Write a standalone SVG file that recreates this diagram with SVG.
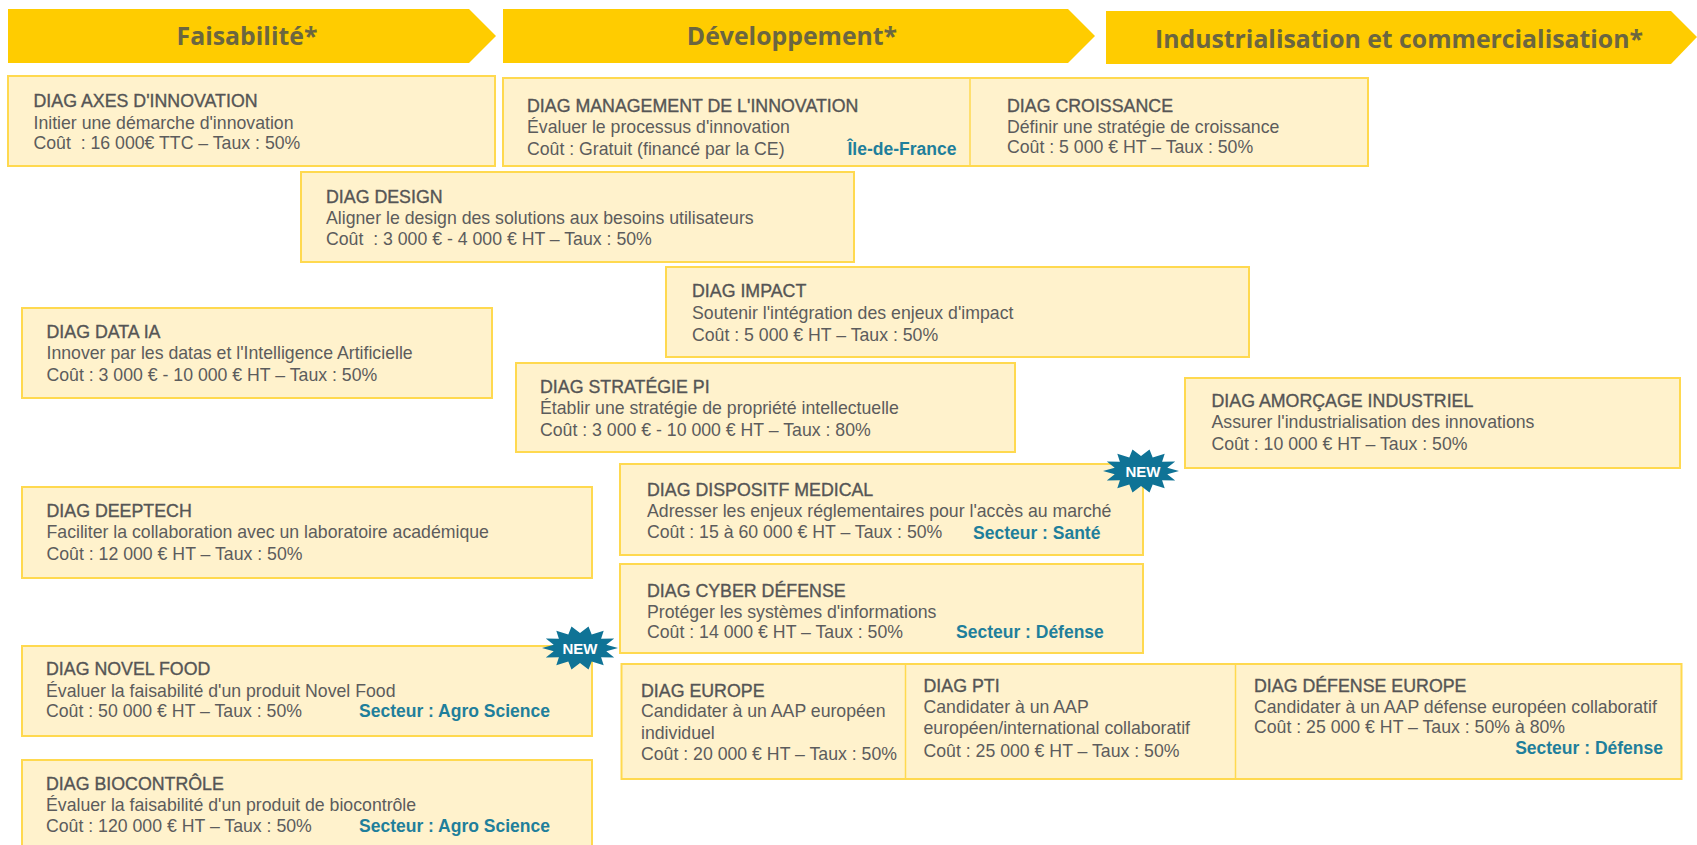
<svg xmlns="http://www.w3.org/2000/svg" width="1697" height="845" viewBox="0 0 1697 845">
<style>
text{font-family:"Liberation Sans",Arial,sans-serif;font-size:17.700px;fill:#5c5c5c}
.box{fill:#fff2cc;stroke:#ffd94f;stroke-width:2}
.div{stroke:#ffd94f;stroke-width:1.5;fill:none}
.chev{fill:#ffcc00}
.hd{font-family:"Open Sans",sans-serif;font-size:24.800px;font-weight:700;fill:#6b6640;text-anchor:middle}
.t{font-size:17.800px;fill:#555;stroke:#555;stroke-width:.35}
.s{fill:#1f7f9b;font-weight:700;font-size:17.500px}
.new{fill:#fff;font-weight:700;font-size:15px;text-anchor:middle}
.star{fill:#0f7396}
</style>
<defs>
<polygon id="burst" points="38,0 26.3,3.3 34.2,9.5 21.1,9.3 23.7,17.2 11.7,13.5 8.5,21.4 0,15 -8.5,21.4 -11.7,13.5 -23.7,17.2 -21.1,9.3 -34.2,9.5 -26.3,3.3 -38,0 -26.3,-3.3 -34.2,-9.5 -21.1,-9.3 -23.7,-17.2 -11.7,-13.5 -8.5,-21.4 0,-15 8.5,-21.4 11.7,-13.5 23.7,-17.2 21.1,-9.3 34.2,-9.5 26.3,-3.3"/>
</defs>
<rect width="1697" height="845" fill="#fff"/>
<g id="connectors"/>
<g id="phase-faisabilite"><polygon class="chev" points="8,9 469,9 496,36 469,63 8,63"/><text class="hd" x="247" y="45">Faisabilité*</text></g>
<g id="phase-developpement"><polygon class="chev" points="503,9 1068,9 1095,36 1068,63 503,63"/><text class="hd" x="792" y="45">Développement*</text></g>
<g id="phase-industrialisation"><polygon class="chev" points="1106,11 1671,11 1697,37 1671,64 1106,64"/><text class="hd" x="1399" y="48">Industrialisation et commercialisation*</text></g>

<g id="diag-axes"><rect class="box" x="8" y="76" width="487" height="90"/>
<text class="t" x="33.500" y="107">DIAG AXES D'INNOVATION</text><text x="33.500" y="128.500">Initier une démarche d'innovation</text><text x="33.500" y="148.500">Coût&#160; : 16 000€ TTC – Taux : 50%</text></g>

<g id="diag-management"><rect class="box" x="503" y="78" width="865" height="88"/><line class="div" x1="970" y1="78" x2="970" y2="166"/>
<text class="t" x="527" y="112">DIAG MANAGEMENT DE L'INNOVATION</text><text x="527" y="133">Évaluer le processus d'innovation</text><text x="527" y="155">Coût : Gratuit (financé par la CE)</text><text class="s" x="847.500" y="155">Île-de-France</text></g>

<g id="diag-croissance"><text class="t" x="1007" y="112">DIAG CROISSANCE</text><text x="1007" y="133">Définir une stratégie de croissance</text><text x="1007" y="153">Coût : 5 000 € HT – Taux : 50%</text></g>

<g id="diag-design"><rect class="box" x="301" y="172" width="553" height="90"/>
<text class="t" x="326" y="203">DIAG DESIGN</text><text x="326" y="224">Aligner le design des solutions aux besoins utilisateurs</text><text x="326" y="245">Coût&#160; : 3 000 € - 4 000 € HT – Taux : 50%</text></g>

<g id="diag-impact"><rect class="box" x="666" y="267" width="583" height="90"/>
<text class="t" x="692" y="297">DIAG IMPACT</text><text x="692" y="319">Soutenir l'intégration des enjeux d'impact</text><text x="692" y="341">Coût : 5 000 € HT – Taux : 50%</text></g>

<g id="diag-data-ia"><rect class="box" x="22" y="308" width="470" height="90"/>
<text class="t" x="46.500" y="338">DIAG DATA IA</text><text x="46.500" y="359">Innover par les datas et l'Intelligence Artificielle</text><text x="46.500" y="381">Coût : 3 000 € - 10 000 € HT – Taux : 50%</text></g>

<g id="diag-strategie-pi"><rect class="box" x="516" y="363" width="499" height="89"/>
<text class="t" x="540" y="393">DIAG STRATÉGIE PI</text><text x="540" y="414">Établir une stratégie de propriété intellectuelle</text><text x="540" y="436">Coût : 3 000 € - 10 000 € HT – Taux : 80%</text></g>

<g id="diag-amorcage"><rect class="box" x="1185" y="378" width="495" height="90"/>
<text class="t" x="1211.500" y="407">DIAG AMORÇAGE INDUSTRIEL</text><text x="1211.500" y="428">Assurer l'industrialisation des innovations</text><text x="1211.500" y="450">Coût : 10 000 € HT – Taux : 50%</text></g>

<g id="diag-dispositif"><rect class="box" x="620" y="464" width="523" height="91"/>
<text class="t" x="647" y="496">DIAG DISPOSITF MEDICAL</text><text x="647" y="517">Adresser les enjeux réglementaires pour l'accès au marché</text><text x="647" y="538">Coût : 15 à 60 000 € HT – Taux : 50%</text><text class="s" x="973" y="539">Secteur : Santé</text></g>

<g id="diag-deeptech"><rect class="box" x="22" y="487" width="570" height="91"/>
<text class="t" x="46.500" y="517">DIAG DEEPTECH</text><text x="46.500" y="538">Faciliter la collaboration avec un laboratoire académique</text><text x="46.500" y="560">Coût : 12 000 € HT – Taux : 50%</text></g>

<g id="diag-cyber"><rect class="box" x="620" y="564" width="523" height="89"/>
<text class="t" x="647" y="597">DIAG CYBER DÉFENSE</text><text x="647" y="618">Protéger les systèmes d'informations</text><text x="647" y="638">Coût : 14 000 € HT – Taux : 50%</text><text class="s" x="956" y="638">Secteur : Défense</text></g>

<g id="diag-novel-food"><rect class="box" x="22" y="646" width="570" height="90"/>
<text class="t" x="46" y="675">DIAG NOVEL FOOD</text><text x="46" y="697">Évaluer la faisabilité d'un produit Novel Food</text><text x="46" y="717">Coût : 50 000 € HT – Taux : 50%</text><text class="s" x="359" y="717">Secteur : Agro Science</text></g>

<g id="diag-europe"><rect class="box" x="621.500" y="664" width="1060" height="115"/><line class="div" x1="905.500" y1="664" x2="905.500" y2="779"/><line class="div" x1="1235.500" y1="664" x2="1235.500" y2="779"/>
<text class="t" x="641" y="697">DIAG EUROPE</text><text x="641" y="717">Candidater à un AAP européen</text><text x="641" y="739">individuel</text><text x="641" y="760">Coût : 20 000 € HT – Taux : 50%</text></g>

<g id="diag-pti"><text class="t" x="923.500" y="692">DIAG PTI</text><text x="923.500" y="713">Candidater à un AAP</text><text x="923.500" y="734">européen/international collaboratif</text><text x="923.500" y="757">Coût : 25 000 € HT – Taux : 50%</text></g>

<g id="diag-defense-europe"><text class="t" x="1254" y="692">DIAG DÉFENSE EUROPE</text><text x="1254" y="713">Candidater à un AAP défense européen collaboratif</text><text x="1254" y="733">Coût : 25 000 € HT – Taux : 50% à 80%</text><text class="s" x="1663" y="754" text-anchor="end">Secteur : Défense</text></g>

<g id="diag-biocontrole"><rect class="box" x="22" y="760" width="570" height="95"/>
<text class="t" x="46" y="790">DIAG BIOCONTRÔLE</text><text x="46" y="811">Évaluer la faisabilité d'un produit de biocontrôle</text><text x="46" y="832">Coût : 120 000 € HT – Taux : 50%</text><text class="s" x="359" y="832">Secteur : Agro Science</text></g>

<g id="new-dispositif"><use href="#burst" class="star" transform="translate(1141 471)"/><text class="new" x="1143" y="477">NEW</text></g>
<g id="new-novel-food"><use href="#burst" class="star" transform="translate(580 648)"/><text class="new" x="580" y="654">NEW</text></g>
</svg>
